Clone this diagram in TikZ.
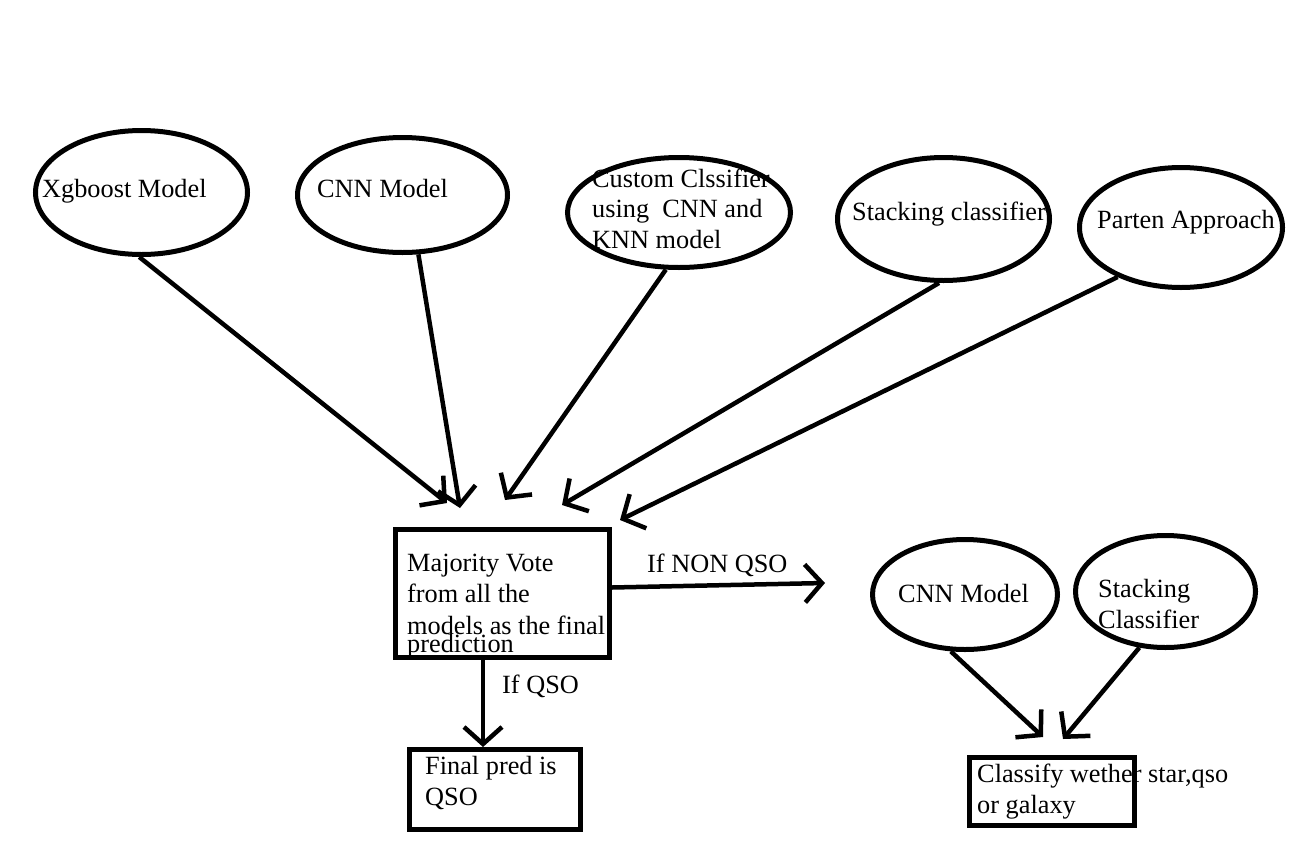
\documentclass[tikz,border=0pt]{standalone}
\usepackage{fontspec}
\setmainfont{Liberation Serif}
\usetikzlibrary{arrows.meta,shapes.geometric}
\tikzset{
  ell/.style={draw=black, line width=5pt, ellipse, inner sep=0pt},
  boxn/.style={draw=black, line width=5pt, rectangle, inner sep=0pt},
  txt/.style={inner sep=0pt, anchor=base west, align=left, font=\fontsize{26.3}{30.5}\selectfont},
  conn/.style={draw=black, line width=4.5pt, -{Straight Barb[length=17pt,width=38pt]}},
}
\begin{document}
\begin{tikzpicture}[x=1pt,y=-1pt]
\fill[white] (0,0) rectangle (1315,841);
\useasboundingbox (0,0) rectangle (1315,841);
% ellipses
\node[ell, minimum width=212pt, minimum height=124pt] (xg) at (141.5,192.5) {};
\node[ell, minimum width=210pt, minimum height=115pt] (cn) at (402.5,195) {};
\node[ell, minimum width=223pt, minimum height=110pt] (cu) at (679,212.5) {};
\node[ell, minimum width=212pt, minimum height=123pt] (st) at (943.5,219) {};
\node[ell, minimum width=203pt, minimum height=120pt] (pa) at (1181,227.5) {};
\node[ell, minimum width=185pt, minimum height=110pt] (cn2) at (965,594.5) {};
\node[ell, minimum width=180pt, minimum height=112pt] (s2) at (1165.5,591.5) {};
% boxes
\node[boxn, minimum width=214pt, minimum height=128pt] (mv) at (502.5,593.5) {};
\node[boxn, minimum width=171pt, minimum height=80pt] (fp) at (495,789.5) {};
\node[boxn, minimum width=165pt, minimum height=68pt] (cl) at (1052,791.5) {};
% texts (anchor at the baseline of the last line)
\node[txt] (xgT) at (42,197) {Xgboost Model};
\node[txt] (cnT) at (317,197) {CNN Model};
\node[txt] (cuT) at (592,248) {Custom Clssifier\\using~ CNN and\\KNN model};
\node[txt] (stT) at (852,220) {Stacking classifier};
\node[txt] (paT) at (1097,228) {Parten Approach};
\node[txt] (mvT) at (407,652) {Majority Vote\\[1pt]from all the\\[1pt]models as the final\\[-12.5pt]prediction};
\node[txt] (fpT) at (425,805) {Final pred is\\QSO};
\node[txt] (cn2T) at (898,602) {CNN Model};
\node[txt] (s2T) at (1098,628) {Stacking\\Classifier};
\node[txt] (clT) at (977,813) {Classify wether star,qso\\or galaxy};
\node[txt] (ifnon) at (647,572) {If NON QSO};
\node[txt] (ifq) at (502,693) {If QSO};
% free arrow ends
\coordinate (t1) at (447,503);
\coordinate (t2) at (460,508);
\coordinate (t3) at (505,500);
\coordinate (t4) at (562,505);
\coordinate (t5) at (620,520);
\coordinate (t6) at (825,583);
\coordinate (t7) at (1043,737);
\coordinate (t8) at (1063,739);
% connectors
\draw[conn] (xg.-92) -- (t1);
\draw[conn] (cn.-75) -- (t2);
\draw[conn] (cu.-103.6) -- (t3);
\draw[conn] (st.-94.5) -- (t4);
\draw[conn] (pa.-142.9) -- (t5);
\draw[conn] ([yshift=6pt]mv.east) -- (t6);
\draw[conn] ([xshift=-19.5pt]mv.south) -- ([xshift=-12pt]fp.north);
\draw[conn] (cn2.-104.5) -- (t7);
\draw[conn] (s2.-115.8) -- (t8);
\end{tikzpicture}
\end{document}
